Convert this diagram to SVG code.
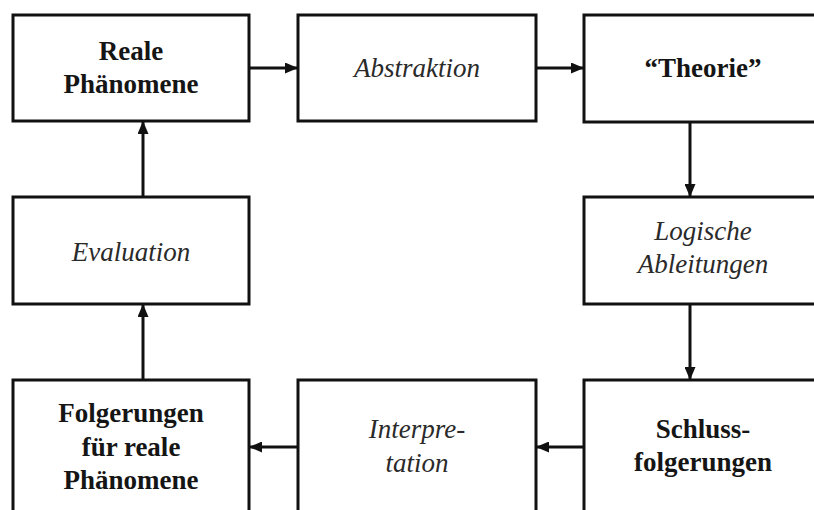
<svg xmlns="http://www.w3.org/2000/svg" width="814" height="510" viewBox="0 0 814 510">
<style>
.box{fill:#fff;stroke:#111;stroke-width:3}
.b{font-family:"Liberation Serif",serif;font-weight:bold;font-size:27px;fill:#151515;text-anchor:middle}
.i{font-family:"Liberation Serif",serif;font-style:italic;font-size:27px;fill:#2a2a2a;text-anchor:middle}
.c{stroke:#111;stroke-width:3;fill:none;marker-end:url(#ah)}
</style>
<defs>
<marker id="ah" markerWidth="13" markerHeight="11" refX="12" refY="5.5" orient="auto" markerUnits="userSpaceOnUse">
<path d="M0,0 L13,5.5 L0,11 Z" fill="#111"/>
</marker>
</defs>
<rect width="814" height="510" fill="#fff"/>
<g id="connectors">
<line class="c" x1="249" y1="68" x2="297" y2="68"/>
<line class="c" x1="536" y1="68" x2="583" y2="68"/>
<line class="c" x1="690" y1="122" x2="690" y2="196"/>
<line class="c" x1="690" y1="304" x2="690" y2="379"/>
<line class="c" x1="584" y1="447" x2="537" y2="447"/>
<line class="c" x1="298" y1="447" x2="250" y2="447"/>
<line class="c" x1="143" y1="380" x2="143" y2="305"/>
<line class="c" x1="143" y1="197" x2="143" y2="122"/>
</g>
<g id="reale">
<rect class="box" x="13" y="15" width="236" height="106"/>
<text class="b" x="131" y="60">Reale</text>
<text class="b" x="131" y="93">Phänomene</text>
</g>
<g id="abstraktion">
<rect class="box" x="298" y="15" width="238" height="106"/>
<text class="i" x="417" y="77">Abstraktion</text>
</g>
<g id="theorie">
<rect class="box" x="584" y="15" width="238" height="107"/>
<text class="b" x="703" y="77">“Theorie”</text>
</g>
<g id="logische">
<rect class="box" x="584" y="197" width="238" height="107"/>
<text class="i" x="703" y="240">Logische</text>
<text class="i" x="703" y="273">Ableitungen</text>
</g>
<g id="schluss">
<rect class="box" x="584" y="380" width="238" height="140"/>
<text class="b" x="703" y="438">Schluss-</text>
<text class="b" x="703" y="471">folgerungen</text>
</g>
<g id="interpretation">
<rect class="box" x="298" y="380" width="238" height="140"/>
<text class="i" x="417" y="438">Interpre-</text>
<text class="i" x="417" y="472">tation</text>
</g>
<g id="folgerungen">
<rect class="box" x="13" y="380" width="236" height="140"/>
<text class="b" x="131" y="422">Folgerungen</text>
<text class="b" x="131" y="456">für reale</text>
<text class="b" x="131" y="489">Phänomene</text>
</g>
<g id="evaluation">
<rect class="box" x="13" y="197" width="236" height="107"/>
<text class="i" x="131" y="261">Evaluation</text>
</g>
</svg>
